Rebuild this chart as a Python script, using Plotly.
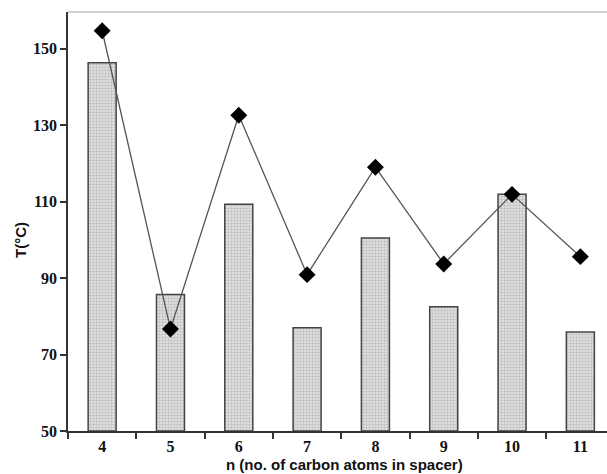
import plotly.graph_objects as go

categories = ["4", "5", "6", "7", "8", "9", "10", "11"]
bar_values = [146.3, 85.7, 109.3, 77.0, 100.5, 82.5, 111.9, 75.9]
line_values = [154.7, 76.7, 132.6, 90.9, 119.0, 93.7, 111.9, 95.6]
y_ticks = [50, 70, 90, 110, 130, 150]

fig = go.Figure()
fig.add_trace(go.Bar(
    x=categories, y=[v - 50 for v in bar_values], base=50,
    width=0.41,
    marker=dict(
        color="#e0e0e0",
        line=dict(color="#444444", width=1.5),
        pattern=dict(shape=".", fgcolor="#999999", bgcolor="#e6e6e6", size=3, solidity=0.5),
    ),
    showlegend=False,
))
fig.add_trace(go.Scatter(
    x=categories, y=line_values, mode="lines+markers",
    line=dict(color="#555555", width=1.3),
    marker=dict(symbol="diamond", size=13, color="black"),
    showlegend=False,
))

fig.update_layout(
    width=607, height=474,
    margin=dict(l=68, r=0, t=12, b=43),
    paper_bgcolor="white", plot_bgcolor="white",
    xaxis=dict(
        type="category", range=[-0.5, 7.39], automargin=False,
        tickson="boundaries", ticks="outside", ticklen=6, tickwidth=1.5, tickcolor="#333",
        showline=True, linecolor="#333", linewidth=1.5, showgrid=False,
        tickvals=categories, ticktext=[f"<b>{c}</b>" for c in categories],
        tickfont=dict(family="Liberation Serif", size=16, color="#111"),
    ),
    yaxis=dict(
        range=[50, 159.6], automargin=False,
        tickvals=y_ticks, ticktext=[f"<b>{t}</b>" for t in y_ticks],
        ticks="outside", ticklen=6, tickwidth=1.5, tickcolor="#333",
        showline=True, linecolor="#333", linewidth=1.5, showgrid=False, zeroline=False,
        tickfont=dict(family="Liberation Serif", size=16, color="#111"),
    ),
    shapes=[dict(type="line", xref="paper", yref="paper", x0=0, x1=1, y0=1, y1=1,
                 line=dict(color="#d0d0d0", width=2))],
    annotations=[
        dict(text="<b>n (no. of carbon atoms in spacer)</b>", xref="paper", yref="paper",
             x=(344 - 68) / 539, y=-34 / 419, xanchor="center", yanchor="middle",
             showarrow=False, font=dict(family="Liberation Sans", size=15, color="#111")),
        dict(text="<b>T(°C)</b>", xref="paper", yref="paper",
             x=-48 / 539, y=(431 - 240) / 419, xanchor="center", yanchor="middle",
             textangle=-90, showarrow=False,
             font=dict(family="Liberation Sans", size=15, color="#111")),
    ],
)
fig.write_html("out.html", config={"displayModeBar": False},
               post_script="document.body.style.margin='0';document.body.style.overflow='hidden';")
